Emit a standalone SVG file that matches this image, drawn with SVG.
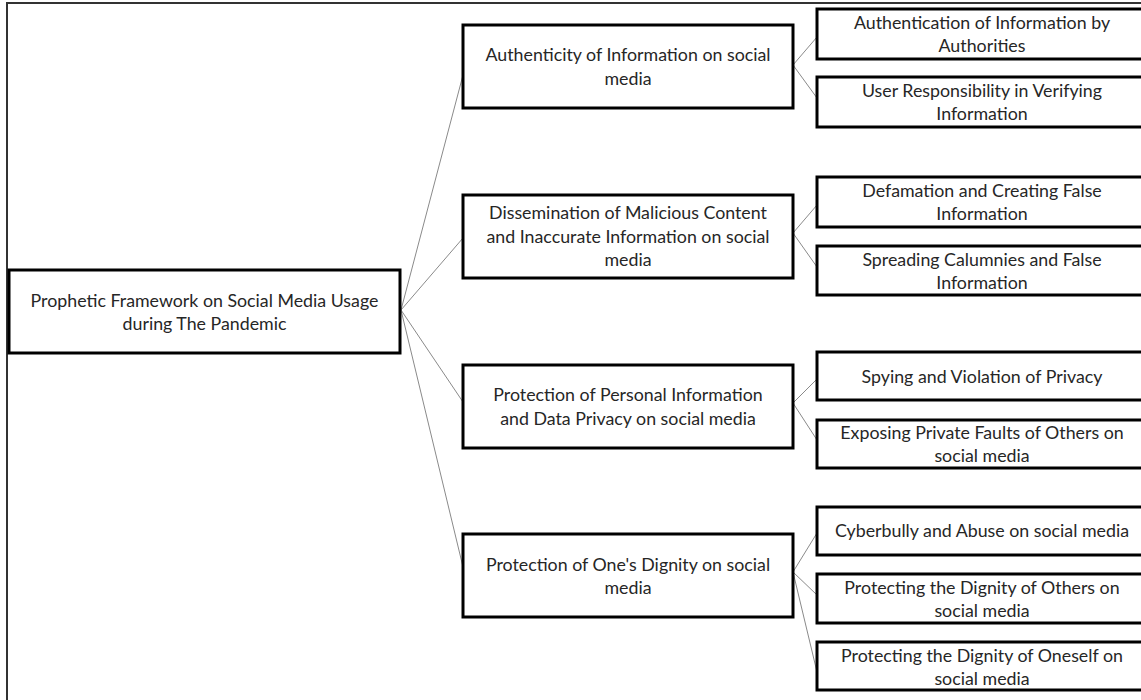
<svg xmlns="http://www.w3.org/2000/svg" width="1141" height="700" viewBox="0 0 1141 700">
<style>
.box{fill:#fff;stroke:#000;stroke-width:3}
.t{font-family:Lato,"Open Sans","Liberation Sans",sans-serif;font-size:17.8px;fill:#262626;text-anchor:middle}
.c{stroke:#8a8a8a;stroke-width:1;fill:none}
.frame{stroke:#333;stroke-width:2;fill:none}
</style>
<rect x="0" y="0" width="1141" height="700" fill="#fff"/>
<path class="frame" d="M7,700 V3 H1141"/>
<g id="connectors">
<line class="c" x1="401" y1="310" x2="463" y2="75"/>
<line class="c" x1="401" y1="310" x2="463" y2="238"/>
<line class="c" x1="401" y1="310" x2="463" y2="402"/>
<line class="c" x1="401" y1="310" x2="463" y2="567"/>
<line class="c" x1="793" y1="65" x2="817" y2="37"/>
<line class="c" x1="793" y1="65" x2="817" y2="98"/>
<line class="c" x1="793" y1="233" x2="817" y2="205"/>
<line class="c" x1="793" y1="233" x2="817" y2="267"/>
<line class="c" x1="793" y1="403" x2="817" y2="379"/>
<line class="c" x1="793" y1="403" x2="817" y2="440"/>
<line class="c" x1="793" y1="572" x2="817" y2="533"/>
<line class="c" x1="793" y1="572" x2="817" y2="595"/>
<line class="c" x1="793" y1="572" x2="817" y2="672"/>
</g>
<g id="root">
<rect class="box" x="9" y="270" width="391" height="83"/>
<text class="t" x="204.5" y="307">Prophetic Framework on Social Media Usage</text>
<text class="t" x="204.5" y="330">during The Pandemic</text>
</g>
<g id="a">
<rect class="box" x="463" y="25" width="330" height="83"/>
<text class="t" x="628" y="61">Authenticity of Information on social</text>
<text class="t" x="628" y="84.5">media</text>
</g>
<g id="b">
<rect class="box" x="463" y="195" width="330" height="83"/>
<text class="t" x="628" y="219">Dissemination of Malicious Content</text>
<text class="t" x="628" y="242.5">and Inaccurate Information on social</text>
<text class="t" x="628" y="266">media</text>
</g>
<g id="c">
<rect class="box" x="463" y="365" width="330" height="83"/>
<text class="t" x="628" y="401">Protection of Personal Information</text>
<text class="t" x="628" y="424.5">and Data Privacy on social media</text>
</g>
<g id="d">
<rect class="box" x="463" y="534" width="330" height="83"/>
<text class="t" x="628" y="570.5">Protection of One's Dignity on social</text>
<text class="t" x="628" y="593.5">media</text>
</g>
<g id="a1">
<rect class="box" x="817" y="9" width="330" height="50"/>
<text class="t" x="982" y="29">Authentication of Information by</text>
<text class="t" x="982" y="52">Authorities</text>
</g>
<g id="a2">
<rect class="box" x="817" y="77" width="330" height="50"/>
<text class="t" x="982" y="97">User Responsibility in Verifying</text>
<text class="t" x="982" y="120">Information</text>
</g>
<g id="b1">
<rect class="box" x="817" y="177" width="330" height="50"/>
<text class="t" x="982" y="197">Defamation and Creating False</text>
<text class="t" x="982" y="220">Information</text>
</g>
<g id="b2">
<rect class="box" x="817" y="246" width="330" height="49"/>
<text class="t" x="982" y="265.5">Spreading Calumnies and False</text>
<text class="t" x="982" y="288.5">Information</text>
</g>
<g id="c1">
<rect class="box" x="817" y="352" width="330" height="48"/>
<text class="t" x="982" y="382.5">Spying and Violation of Privacy</text>
</g>
<g id="c2">
<rect class="box" x="817" y="420" width="330" height="48"/>
<text class="t" x="982" y="439">Exposing Private Faults of Others on</text>
<text class="t" x="982" y="462">social media</text>
</g>
<g id="d1">
<rect class="box" x="817" y="507" width="330" height="48"/>
<text class="t" x="982" y="537">Cyberbully and Abuse on social media</text>
</g>
<g id="d2">
<rect class="box" x="817" y="574" width="330" height="49"/>
<text class="t" x="982" y="594">Protecting the Dignity of Others on</text>
<text class="t" x="982" y="617">social media</text>
</g>
<g id="d3">
<rect class="box" x="817" y="642" width="330" height="48"/>
<text class="t" x="982" y="661.5">Protecting the Dignity of Oneself on</text>
<text class="t" x="982" y="684.5">social media</text>
</g>
</svg>
